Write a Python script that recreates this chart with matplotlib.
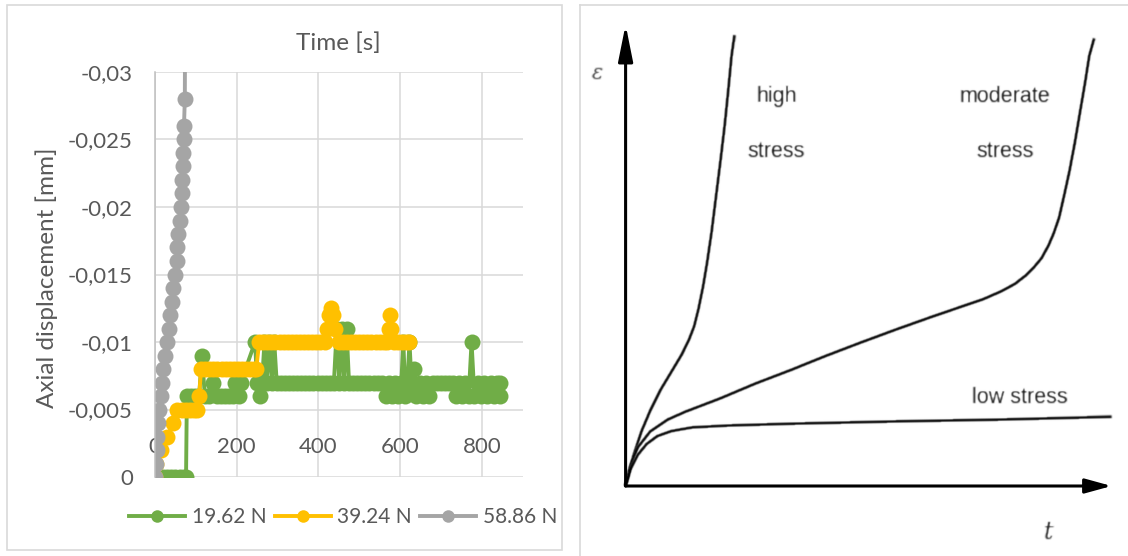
import numpy as np
import matplotlib
matplotlib.use("Agg")
import matplotlib.pyplot as plt
from matplotlib.lines import Line2D

# ---------------- creep test data (left chart) ----------------
series_labels = ["19.62 N", "39.24 N", "58.86 N"]
series_colors = ["#70AD47", "#FFC000", "#A5A5A5"]

# 19.62 N
time_1962 = [0, 10, 20, 30, 40, 50, 60, 70, 76,
             78, 88, 98, 108, 115, 122, 132, 143, 152, 162, 172, 182, 190, 196, 205, 210,
             245, 250, 257, 262, 268, 273, 280, 286, 292, 298,
             308, 318, 328, 338, 348, 358, 368, 378, 388, 398, 408, 418, 428, 438,
             445, 451, 457, 463, 469, 475,
             485, 495, 505, 515, 525, 535, 545, 555,
             565, 572, 580, 588, 596, 603, 608, 613, 618, 623, 628, 633, 640, 648, 656, 664, 672, 680,
             690, 700, 710, 720, 730,
             736, 744, 752, 760, 768, 775, 782, 790, 798, 806, 814, 822, 830, 838, 844, 845]
disp_1962 = [0, 0, 0, 0, 0, 0, 0, 0, 0,
             -0.006, -0.006, -0.006, -0.006, -0.009, -0.006, -0.006, -0.007, -0.006, -0.006, -0.006,
             -0.006, -0.006, -0.007, -0.006, -0.007,
             -0.010, -0.007, -0.006, -0.007, -0.010, -0.007, -0.010, -0.007, -0.010, -0.007,
             -0.007, -0.007, -0.007, -0.007, -0.007, -0.007, -0.007, -0.007, -0.007, -0.007, -0.007,
             -0.007, -0.007, -0.007,
             -0.011, -0.007, -0.011, -0.007, -0.011, -0.007,
             -0.007, -0.007, -0.007, -0.007, -0.007, -0.007, -0.007, -0.007,
             -0.006, -0.007, -0.006, -0.007, -0.006, -0.007, -0.010, -0.006, -0.007, -0.010, -0.007,
             -0.008, -0.006, -0.007, -0.006, -0.007, -0.006, -0.007,
             -0.007, -0.007, -0.007, -0.007, -0.007,
             -0.006, -0.007, -0.006, -0.007, -0.006, -0.010, -0.006, -0.007, -0.006, -0.007, -0.006,
             -0.007, -0.006, -0.007, -0.006, -0.007]

# 39.24 N
time_3924 = [0, 3, 14, 30, 45, 55, 65, 75, 85, 95, 104, 108,
             113, 123, 133, 143, 153, 163, 173, 183, 193, 203, 213, 223, 233, 243, 248,
             255, 265, 275, 285, 295, 305, 315, 325, 335, 345, 355, 365, 375, 385, 395, 405, 415,
             420, 425, 430, 435, 440,
             450, 460, 470, 480, 490, 500, 510, 520, 530, 540, 550, 560, 567,
             572, 575, 578,
             585, 595, 605, 615, 623]
disp_3924 = [0, -0.001, -0.002, -0.003, -0.004, -0.005, -0.005, -0.005, -0.005, -0.005, -0.005, -0.006,
             -0.008, -0.008, -0.008, -0.008, -0.008, -0.008, -0.008, -0.008, -0.008, -0.008, -0.008,
             -0.008, -0.008, -0.008, -0.008,
             -0.010, -0.010, -0.010, -0.010, -0.010, -0.010, -0.010, -0.010, -0.010, -0.010, -0.010,
             -0.010, -0.010, -0.010, -0.010, -0.010, -0.010,
             -0.011, -0.012, -0.0125, -0.012, -0.011,
             -0.010, -0.010, -0.010, -0.010, -0.010, -0.010, -0.010, -0.010, -0.010, -0.010, -0.010,
             -0.010, -0.010,
             -0.011, -0.012, -0.011,
             -0.010, -0.010, -0.010, -0.010, -0.010]

# 58.86 N
time_5886 = [0, 2, 4, 5, 8, 11, 14, 18, 20, 24, 29, 34, 37, 42, 45, 50, 53, 55, 57, 60,
             63, 65, 67, 68, 69, 70, 71, 73, 74]
disp_5886 = [0, -0.001, -0.002, -0.003, -0.004, -0.005, -0.006, -0.007, -0.008, -0.009, -0.010,
             -0.011, -0.012, -0.013, -0.014, -0.015, -0.016, -0.017, -0.018, -0.019, -0.020,
             -0.021, -0.022, -0.023, -0.024, -0.025, -0.026, -0.028, -0.036]

x_ticks = [0, 200, 400, 600, 800]
y_ticks = [0, -0.005, -0.01, -0.015, -0.02, -0.025, -0.03]
y_tick_labels = ["0", "-0,005", "-0,01", "-0,015", "-0,02", "-0,025", "-0,03"]

# ---------------- schematic creep curves (right panel) ----------------
high_t = [0, 0.0072, 0.018, 0.0325, 0.0505, 0.0722, 0.0939, 0.1155, 0.130, 0.141, 0.150,
          0.159, 0.1675, 0.177, 0.186, 0.195, 0.2036, 0.211, 0.218, 0.224]
high_eps = [0, 0.034, 0.072, 0.118, 0.163, 0.209, 0.247, 0.285, 0.316, 0.346, 0.384,
            0.430, 0.483, 0.551, 0.627, 0.703, 0.779, 0.855, 0.932, 0.977]
moderate_t = [0, 0.0108, 0.0253, 0.0505, 0.0866, 0.123, 0.195, 0.267, 0.339, 0.412, 0.484,
              0.556, 0.628, 0.700, 0.736, 0.773, 0.801, 0.823, 0.841, 0.856, 0.870, 0.881,
              0.892, 0.902, 0.913, 0.924, 0.935, 0.946, 0.954, 0.964]
moderate_eps = [0, 0.046, 0.084, 0.118, 0.144, 0.161, 0.190, 0.222, 0.251, 0.282, 0.311,
                0.339, 0.366, 0.392, 0.405, 0.422, 0.438, 0.456, 0.475, 0.494, 0.521, 0.548,
                0.582, 0.628, 0.681, 0.742, 0.810, 0.878, 0.932, 0.970]
low_t = [0, 0.0108, 0.0253, 0.0433, 0.065, 0.0939, 0.137, 0.209, 0.339, 0.556, 0.773, 1.0]
low_eps = [0, 0.038, 0.068, 0.091, 0.108, 0.119, 0.127, 0.131, 0.135, 0.140, 0.144, 0.150]

W, H = 1128, 556
TEXT = "#595959"


def fx(px):
    return px / W


def fy(py):
    return 1 - py / H


def soften(sigma):
    """Agg filter applying a small gaussian blur to an artist."""
    r = int(3 * sigma) + 1
    k = np.exp(-0.5 * (np.arange(-r, r + 1) / sigma) ** 2)
    k /= k.sum()

    def _filter(im, dpi):
        a = np.pad(im, ((r, r), (r, r), (0, 0)))
        out = np.zeros_like(a)
        for i, w in enumerate(k):
            out += w * np.roll(a, i - r, axis=0)
        a = out
        out = np.zeros_like(a)
        for i, w in enumerate(k):
            out += w * np.roll(a, i - r, axis=1)
        return out, -r, -r

    return _filter


fig = plt.figure(figsize=(W / 100, H / 100), dpi=100)
fig.patch.set_facecolor("white")
font = ["Lato", "DejaVu Sans"]

# panel frames
fig.add_artist(plt.Rectangle((fx(6.5), fy(550)), fx(562) - fx(6.5), fy(5) - fy(550),
                             fill=False, edgecolor="#D9D9D9", lw=1.2, transform=fig.transFigure))
fig.add_artist(Line2D([fx(580), fx(580)], [fy(5), 0], color="#D9D9D9", lw=1.2,
                      transform=fig.transFigure))
fig.add_artist(Line2D([fx(580), 1], [fy(5), fy(5)], color="#D9D9D9", lw=1.2,
                      transform=fig.transFigure))

# ---------------- left chart ----------------
ax = fig.add_axes([fx(155), fy(477), fx(522.6) - fx(155), fy(72) - fy(477)])
ax.set_xlim(0, 900)
ax.set_ylim(0, -0.03)
for t, d, c in zip([time_1962, time_3924, time_5886], [disp_1962, disp_3924, disp_5886],
                   series_colors):
    ax.plot(t, d, color=c, lw=2.8, marker="o", markersize=11.5, markeredgewidth=0,
            solid_joinstyle="round", solid_capstyle="round")
ax.set_xticks(x_ticks)
ax.set_xticklabels([str(v) for v in x_ticks])
ax.set_yticks(y_ticks)
ax.set_yticklabels(y_tick_labels)
ax.grid(True, color="#D9D9D9", lw=1.1)
ax.set_axisbelow(True)
for s in ["top", "right", "bottom"]:
    ax.spines[s].set_visible(False)
ax.spines["left"].set_color("#BFBFBF")
ax.spines["left"].set_linewidth(1.1)
ax.tick_params(axis="x", length=0, pad=-29, labelsize=16, labelcolor=TEXT)
ax.tick_params(axis="y", length=0, pad=16, labelsize=16, labelcolor=TEXT)
for lab in ax.get_xticklabels() + ax.get_yticklabels():
    lab.set_family(font)

fig.text(fx(338.7), fy(43), "Time [s]", ha="center", va="center", fontsize=17.5,
         color=TEXT, family=font)
fig.text(fx(47), fy(278), "Axial displacement [mm]", ha="center", va="center",
         rotation=90, fontsize=17.5, color=TEXT, family=font)

handles = [Line2D([], [], color=c, lw=2.8, marker="o", markersize=9, markeredgewidth=0)
           for c in series_colors]
fig.legend(handles, series_labels, loc="center", bbox_to_anchor=(fx(343), fy(517)), ncol=3,
           frameon=False, handlelength=2.7, columnspacing=0.4, handletextpad=0.3,
           prop={"family": font, "size": 15}, labelcolor=TEXT)

# ---------------- right panel: schematic ----------------
ink = "#000000"
blur = soften(0.7)
bx = fig.add_axes([fx(625.6), fy(486), fx(1111.6) - fx(625.6), fy(24.6) - fy(486)])
bx.set_xlim(0, 1)
bx.set_ylim(0, 1)
bx.axis("off")
for t, e in [(high_t, high_eps), (moderate_t, moderate_eps), (low_t, low_eps)]:
    ln, = bx.plot(t, e, color=ink, lw=2.0, clip_on=False, solid_capstyle="butt",
                  solid_joinstyle="round")
    ln.set_agg_filter(blur)
for tip, hl in [((1, 0), 0.8), ((0, 1), 1.1)]:
    an = bx.annotate("", xy=tip, xytext=(0, 0), annotation_clip=False,
                     arrowprops=dict(arrowstyle=f"-|>,head_length={hl},head_width=0.22",
                                     mutation_scale=20, lw=2.2, color=ink,
                                     shrinkA=0, shrinkB=0))
    an.arrow_patch.set_agg_filter(blur)

lab_kw = dict(ha="center", va="center", fontsize=15.5, color="#111111",
              family="Liberation Sans")
for x, y, s in [(0.3105, 0.845, "high"), (0.3105, 0.724, "stress"),
                (0.780, 0.845, "moderate"), (0.780, 0.724, "stress"),
                (0.8115, 0.191, "low stress")]:
    bx.text(x, y, s, **lab_kw).set_agg_filter(blur)
bx.text(-0.058, 0.894, "ε", ha="center", va="center", fontsize=15, color="#333333",
        family="DejaVu Serif", style="italic").set_agg_filter(blur)
bx.text(0.870, -0.100, "t", ha="center", va="center", fontsize=17, color="#222222",
        family="DejaVu Serif", style="italic").set_agg_filter(blur)

fig.savefig("out.png", dpi=100, facecolor="white")
